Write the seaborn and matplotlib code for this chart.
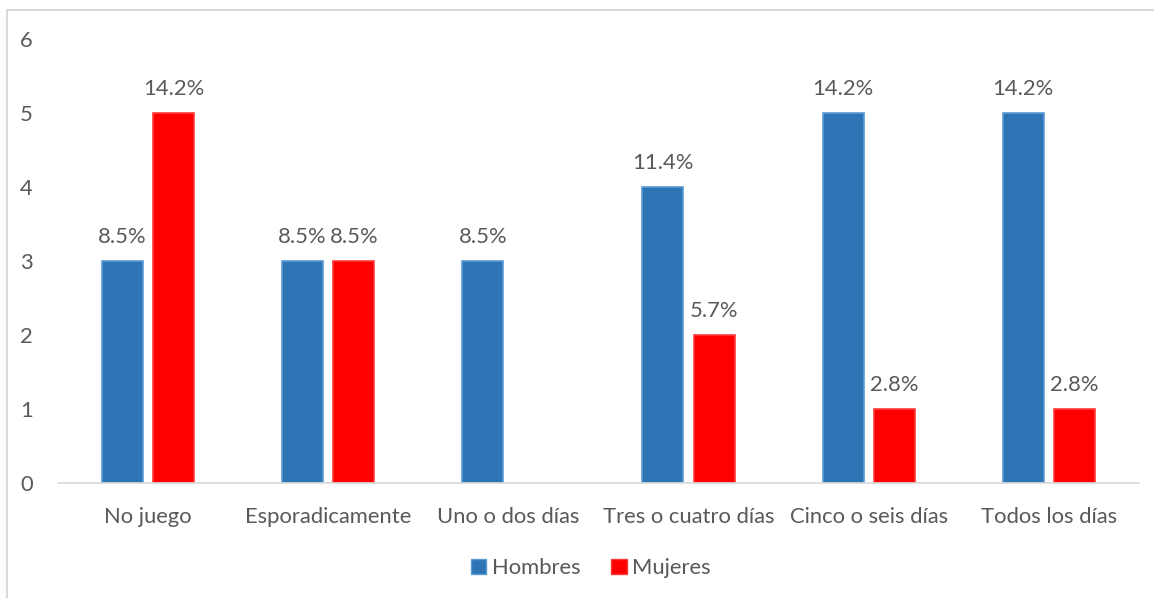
import matplotlib
matplotlib.use("Agg")
import matplotlib.pyplot as plt
from matplotlib.patches import Rectangle, Patch
import seaborn as sns
import pandas as pd

categories = ["No juego", "Esporadicamente", "Uno o dos días", "Tres o cuatro días",
              "Cinco o seis días", "Todos los días"]
hombres = [3, 3, 3, 4, 5, 5]
mujeres = [5, 3, 0, 2, 1, 1]
hombres_pct = ["8.5%", "8.5%", "8.5%", "11.4%", "14.2%", "14.2%"]
mujeres_pct = ["14.2%", "8.5%", "", "5.7%", "2.8%", "2.8%"]
series = ["Hombres", "Mujeres"]
yticks = [0, 1, 2, 3, 4, 5, 6]

df = pd.DataFrame({
    "categoria": categories * 2,
    "serie": [series[0]] * len(categories) + [series[1]] * len(categories),
    "valor": hombres + mujeres,
})

sns.set_style("white")
plt.rcParams["font.family"] = ["Lato", "DejaVu Sans"]

fill = {"Hombres": "#2E75B6", "Mujeres": "#FF0000"}
edge = {"Hombres": "#5B9BD5", "Mujeres": "#FF3B3B"}
text_color = "#595959"
fs = 15.8

fig = plt.figure(figsize=(11.54, 5.98), dpi=100)
ax = fig.add_axes([0.0503, 0.1923, 0.9367, 0.7425])

sns.barplot(data=df, x="categoria", y="valor", hue="serie", order=categories,
            hue_order=series, palette=fill, saturation=1, width=0.57, gap=0.2,
            ax=ax, legend=False, errorbar=None)

for cont, s in zip(ax.containers, series):
    for bar in cont:
        bar.set_edgecolor(edge[s])
        bar.set_linewidth(1.2 if bar.get_height() > 0 else 0)

for cont, labels in zip(ax.containers, [hombres_pct, mujeres_pct]):
    ax.bar_label(cont, labels=labels, padding=10, fontsize=fs, color=text_color)

ax.set_ylim(0, 6)
ax.set_yticks(yticks)
ax.set_xlim(-0.5, len(categories) - 0.5)
ax.set_xlabel("")
ax.set_ylabel("")
for sp in ["top", "right", "left"]:
    ax.spines[sp].set_visible(False)
ax.spines["bottom"].set_color("#D9D9D9")
ax.spines["bottom"].set_linewidth(1.2)
ax.tick_params(axis="both", length=0, labelsize=fs, labelcolor=text_color)
ax.tick_params(axis="y", pad=18)
ax.tick_params(axis="x", pad=17)

handles = [Patch(facecolor=fill[s], edgecolor=edge[s], label=s) for s in series]
fig.legend(handles=handles, loc="center", bbox_to_anchor=(0.512, 0.05), ncol=2,
           frameon=False, fontsize=fs, handlelength=0.7, handleheight=0.7,
           handletextpad=0.25, columnspacing=1.4, labelcolor=text_color)

# outer chart frame
fig.patches.append(Rectangle((7 / 1154, -0.1), 1.2, (598 - 10) / 598 + 0.1,
                             transform=fig.transFigure, fill=False,
                             edgecolor="#D9D9D9", linewidth=1.5))

fig.savefig("out.png", dpi=100)
